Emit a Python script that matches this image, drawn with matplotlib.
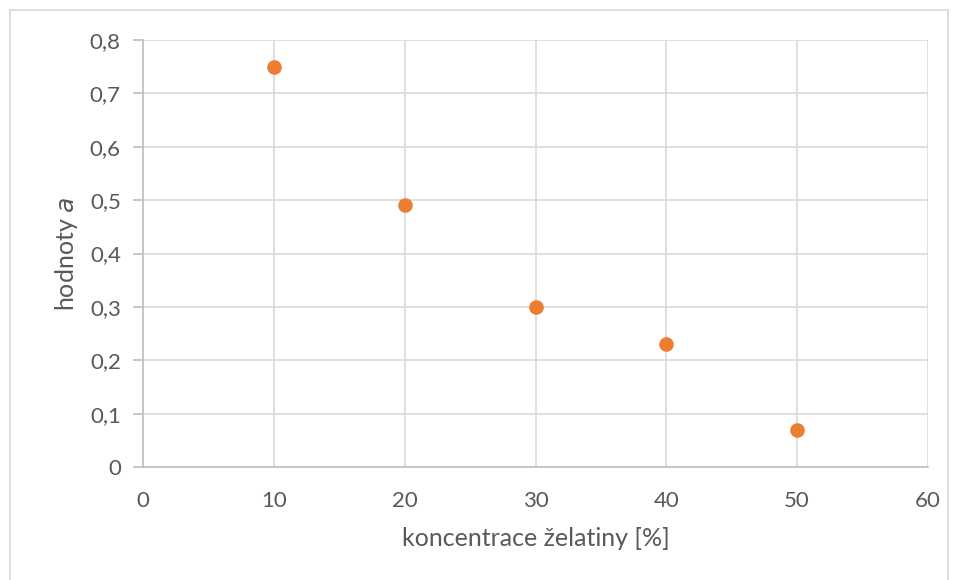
import matplotlib
matplotlib.use("Agg")
import matplotlib.pyplot as plt
from matplotlib.lines import Line2D

# data
koncentrace = [10, 20, 30, 40, 50]
hodnoty_a = [0.75, 0.49, 0.30, 0.23, 0.07]
x_ticks = [0, 10, 20, 30, 40, 50, 60]
y_ticks = [0, 0.1, 0.2, 0.3, 0.4, 0.5, 0.6, 0.7, 0.8]

plt.rcParams['font.family'] = ['Lato', 'DejaVu Sans']
text_color = '#595959'

fig = plt.figure(figsize=(9.59, 5.80), dpi=100)
ax = fig.add_axes([143/959, 1 - 467/580, (928 - 143)/959, (467 - 40)/580])

ax.scatter(koncentrace, hodnoty_a, s=110, color='#ED7D31', zorder=3, linewidths=0)

ax.set_xlim(0, 60)
ax.set_ylim(0, 0.8)
ax.set_xticks(x_ticks)
ax.set_yticks(y_ticks)
ax.set_xticklabels([str(t) for t in x_ticks])
ax.set_yticklabels(['0' if t == 0 else f'{t:.1f}'.replace('.', ',') for t in y_ticks])

ax.grid(True, color='#d9d9d9', linewidth=1.2)
ax.set_axisbelow(True)
for side in ['top', 'right']:
    ax.spines[side].set_visible(False)
for side in ['left', 'bottom']:
    ax.spines[side].set_color('#bfbfbf')
    ax.spines[side].set_linewidth(1.2)

ax.tick_params(axis='y', length=7, width=1.2, color='#bfbfbf', labelcolor=text_color,
               labelsize=16, pad=9)
ax.tick_params(axis='x', length=0, labelcolor=text_color, labelsize=16, pad=17)

ax.set_xlabel('koncentrace želatiny [%]', color=text_color, fontsize=18, labelpad=12)
ax.set_ylabel('hodnoty $\\mathit{a}$', color=text_color, fontsize=18, labelpad=7)

# chart area border
border = '#d9d9d9'
fig.add_artist(Line2D([10/959, 10/959], [0, 1 - 10/580], transform=fig.transFigure, color=border, lw=1.2))
fig.add_artist(Line2D([10/959, 948/959], [1 - 10/580, 1 - 10/580], transform=fig.transFigure, color=border, lw=1.2))
fig.add_artist(Line2D([948/959, 948/959], [0, 1 - 10/580], transform=fig.transFigure, color=border, lw=1.2))

fig.savefig('out.png', dpi=100)
